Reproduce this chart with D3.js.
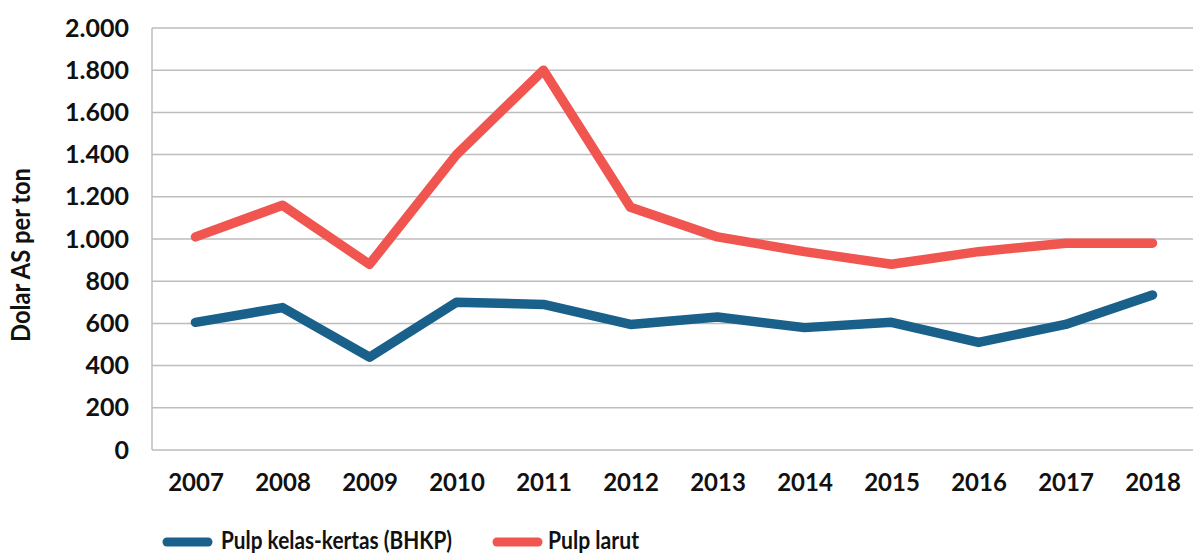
<!DOCTYPE html>
<html><head><meta charset="utf-8">
<script src="https://cdn.jsdelivr.net/npm/d3@7"></script>
<style>
body{margin:0;background:#fff;}
text{font-family:"Lato","Open Sans",sans-serif;font-weight:700;fill:#111;}
</style></head>
<body><svg id="c" width="1193" height="554"></svg>
<script>
const years = ["2007","2008","2009","2010","2011","2012","2013","2014","2015","2016","2017","2018"];
const bhkp = [605,675,440,700,690,595,630,580,605,510,595,735];
const larut = [1010,1160,880,1400,1800,1150,1010,940,880,940,980,980];
const yTicks = [0,200,400,600,800,1000,1200,1400,1600,1800,2000];
const seriesNames = ["Pulp kelas-kertas (BHKP)","Pulp larut"];
const colors = ["#19608a","#f0554f"];

const svg = d3.select("#c");
const M = {left: 152, right: 1196, top: 28, bottom: 450};
const x = d3.scalePoint().domain(years).range([M.left, M.right]).padding(0.5);
const y = d3.scaleLinear().domain([0,2000]).range([M.bottom, M.top]);
const fmt = v => d3.format(",")(v).replace(/,/g, ".");

// gridlines
svg.append("g").selectAll("line").data(yTicks).join("line")
  .attr("x1", M.left).attr("x2", 1193)
  .attr("y1", d => y(d)).attr("y2", d => y(d))
  .attr("stroke", "#bdbdbd").attr("stroke-width", 1.5);
svg.append("line").attr("x1", M.left).attr("x2", M.left).attr("y1", M.top).attr("y2", M.bottom)
  .attr("stroke", "#bdbdbd").attr("stroke-width", 1.5);

// y axis labels
const yAxis = d3.axisLeft(y).tickValues(yTicks).tickFormat(fmt).tickSize(0).tickPadding(23);
const gy = svg.append("g").attr("transform", `translate(${M.left},0)`).call(yAxis);
gy.select(".domain").remove();
gy.selectAll("text").style("font-size","25px").style("font-family","Lato").attr("fill","#111");

// x axis labels
const xAxis = d3.axisBottom(x).tickSize(0);
const gx = svg.append("g").attr("transform", `translate(0,${M.bottom})`).call(xAxis);
gx.select(".domain").remove();
gx.selectAll("text").style("font-size","24px").style("font-family","Lato").attr("fill","#111")
  .attr("y", 41).attr("dy", 0);

// y title
svg.append("text").attr("transform", "translate(30,255) rotate(-90)")
  .attr("text-anchor","middle").style("font-size","26px")
  .attr("textLength", 174).attr("lengthAdjust","spacingAndGlyphs")
  .text("Dolar AS per ton");

// lines
const line = d3.line().x((d,i) => x(years[i])).y(d => y(d));
[bhkp, larut].forEach((s, k) => {
  svg.append("path").datum(s).attr("d", line).attr("fill","none")
    .attr("stroke", colors[k]).attr("stroke-width", 9.5)
    .attr("stroke-linejoin","round").attr("stroke-linecap","round");
});

// legend
const lg = [{x:167, tx:221, w:231}, {x:497, tx:548, w:91}];
seriesNames.forEach((n, k) => {
  svg.append("line").attr("x1", lg[k].x).attr("x2", lg[k].x + 41)
    .attr("y1", 542).attr("y2", 542).attr("stroke", colors[k])
    .attr("stroke-width", 9).attr("stroke-linecap","round");
  svg.append("text").attr("x", lg[k].tx).attr("y", 549).style("font-size","25px")
    .attr("textLength", lg[k].w).attr("lengthAdjust","spacingAndGlyphs").text(n);
});
</script></body></html>
